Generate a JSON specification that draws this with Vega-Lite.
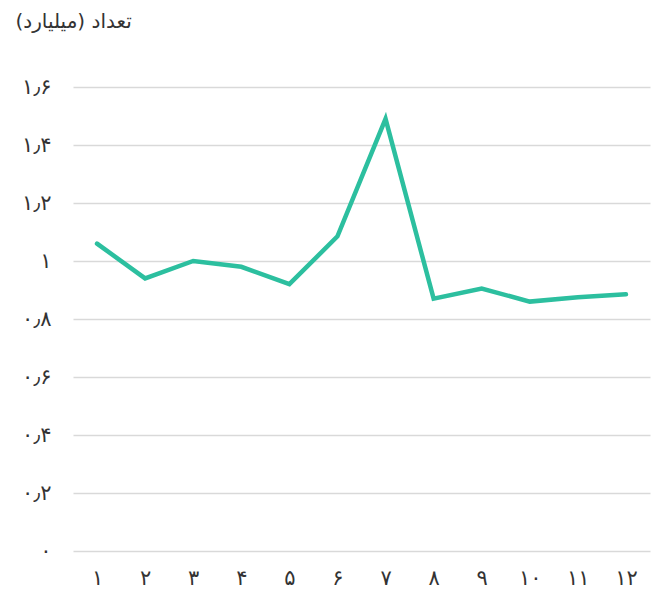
{
  "$schema": "https://vega.github.io/schema/vega-lite/v6.json",
  "autosize": {"type": "none"},
  "padding": {"left": 73, "top": 87, "right": 1, "bottom": 43},
  "width": 577,
  "height": 464,
  "background": "white",
  "config": {
    "view": {"stroke": null},
    "font": "DejaVu Sans"
  },
  "data": {
    "values": [
      {"month": 1, "value": 1.06},
      {"month": 2, "value": 0.94},
      {"month": 3, "value": 1.0},
      {"month": 4, "value": 0.98},
      {"month": 5, "value": 0.92},
      {"month": 6, "value": 1.085},
      {"month": 7, "value": 1.49},
      {"month": 8, "value": 0.87},
      {"month": 9, "value": 0.905},
      {"month": 10, "value": 0.86},
      {"month": 11, "value": 0.875},
      {"month": 12, "value": 0.885}
    ]
  },
  "mark": {"type": "line", "color": "#2cbf9f", "strokeWidth": 4.5, "strokeJoin": "miter", "strokeCap": "round"},
  "encoding": {
    "x": {
      "field": "month",
      "type": "ordinal",
      "scale": {"type": "point", "padding": 0.5},
      "axis": {
        "title": null,
        "labelAngle": 0,
        "domain": false,
        "ticks": false,
        "grid": false,
        "labelFontSize": 21,
        "labelColor": "#333333",
        "labelPadding": 16,
        "labelExpr": "replace(replace(replace(replace(replace(replace(replace(replace(replace(replace(datum.label, regexp('0','g'), '۰'), regexp('1','g'), '۱'), regexp('2','g'), '۲'), regexp('3','g'), '۳'), regexp('4','g'), '۴'), regexp('5','g'), '۵'), regexp('6','g'), '۶'), regexp('7','g'), '۷'), regexp('8','g'), '۸'), regexp('9','g'), '۹')"
      }
    },
    "y": {
      "field": "value",
      "type": "quantitative",
      "scale": {"domain": [0, 1.6], "nice": false},
      "axis": {
        "title": "‏تعداد (میلیارد)‏",
        "titleAngle": 0,
        "titleAlign": "left",
        "titleBaseline": "middle",
        "titleX": -58,
        "titleY": -66,
        "titleFontSize": 20,
        "titleFontWeight": "normal",
        "titleColor": "#333333",
        "values": [0, 0.2, 0.4, 0.6, 0.8, 1, 1.2, 1.4, 1.6],
        "domain": false,
        "ticks": false,
        "gridColor": "#d9d9d9",
        "gridWidth": 1.5,
        "labelFontSize": 21,
        "labelColor": "#333333",
        "labelPadding": 22,
        "labelExpr": "replace(replace(replace(replace(replace(replace(replace(replace(replace(replace(replace(format(datum.value, '.1~f'), regexp('[.]','g'), '٫'), regexp('0','g'), '۰'), regexp('1','g'), '۱'), regexp('2','g'), '۲'), regexp('3','g'), '۳'), regexp('4','g'), '۴'), regexp('5','g'), '۵'), regexp('6','g'), '۶'), regexp('7','g'), '۷'), regexp('8','g'), '۸'), regexp('9','g'), '۹')"
      }
    }
  }
}
